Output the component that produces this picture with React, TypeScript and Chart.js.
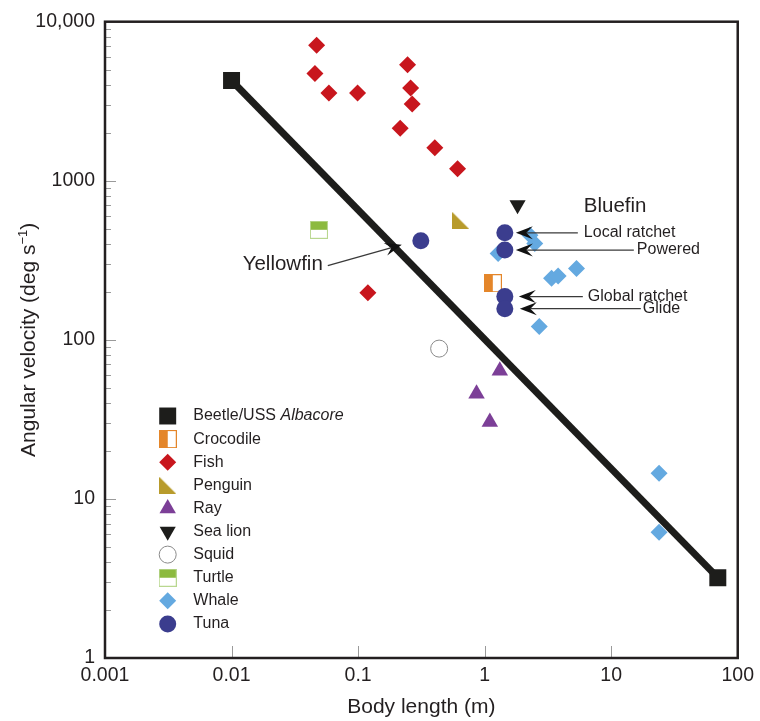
import React, { useEffect, useRef } from 'react';
import { Chart, registerables } from 'chart.js';
import { drawPoint } from 'chart.js/helpers';

Chart.register(...registerables);

// ---------- data ----------
const xTickValues = [0.001, 0.01, 0.1, 1, 10, 100];
const xTickLabels = ['0.001', '0.01', '0.1', '1', '10', '100'];
const yTickValues = [1, 10, 100, 1000, 10000];
const yTickLabels = ['1', '10', '100', '1000', '10,000'];
const xAxisTitle = 'Body length (m)';
const yAxisTitleMain = 'Angular velocity (deg s';
const yAxisTitleSup = '\u22121';
const yAxisTitleEnd = ')';

const speciesNames = ['Beetle/USS ', 'Crocodile', 'Fish', 'Penguin', 'Ray', 'Sea lion', 'Squid', 'Turtle', 'Whale', 'Tuna'];
const beetleItalic = 'Albacore';

const beetleX = [0.01, 69.6];
const beetleY = [4273, 3.2];
const crocodileX = [1.16];
const crocodileY = [227];
const fishX = [0.047, 0.0456, 0.0588, 0.099, 0.246, 0.26, 0.2676, 0.215, 0.404, 0.611, 0.1195];
const fishY = [7105, 4726, 3557, 3557, 5358, 3824, 3036, 2139, 1610, 1190, 198];
const penguinX = [0.648];
const penguinY = [562];
const rayX = [1.318, 0.863, 1.099];
const rayY = [63.9, 45.9, 30.4];
const seaLionX = [1.82];
const seaLionY = [705];
const squidX = [0.437];
const squidY = [88.1];
const turtleX = [0.049];
const turtleY = [492];
const whaleX = [2.28, 2.49, 1.278, 3.38, 3.81, 5.32, 2.7, 23.9, 23.9];
const whaleY = [455, 404, 349, 244, 252, 281, 121.5, 14.5, 6.17];
const tunaX = [0.313, 1.444, 1.444, 1.444, 1.444];
const tunaY = [420, 471, 367, 187, 157];
const tunaLabels = ['Yellowfin', 'Local ratchet', 'Powered', 'Global ratchet', 'Glide'];
const bluefinTitle = 'Bluefin';

// ---------- styles ----------
const FONT = "'Liberation Sans', Arial, Helvetica, sans-serif";
const INK = '#231f20';
const BLACK = '#1d1d1b';
const ORANGE = '#e4862a';
const FISH = '#c8161d';
const PENGUIN = '#b89b2c';
const RAY = '#7c3f97';
const SQUID_BORDER = '#8a8a8a';
const GREEN = '#8cba3f';
const GREEN_LIGHT = '#b9d78f';
const WHALE = '#64a9e0';
const TUNA = '#3b3d8e';
const TICK = '#9a9a9a';

const noteLayout = {
  yellowfin: { idx: 0, textRightDx: -98, textDy: 24, tailDx: -93, tailDy: 25, tipDx: -19, tipDy: 4, size: 20.5 },
  bluefin: { idx: 1, dx: 79, dy: -26, size: 20.5 },
  arrows: [
    { idx: 1, tipDx: 11, tailDx: 73, textDx: 79 },
    { idx: 2, tipDx: 11, tailDx: 129, textDx: 132 },
    { idx: 3, tipDx: 14, tailDx: 78, textDx: 83 },
    { idx: 4, tipDx: 15, tailDx: 136, textDx: 138 },
  ],
  labelSize: 16,
};

function mkCanvas(size: number, draw: (c: CanvasRenderingContext2D, s: number) => void) {
  const c = document.createElement('canvas');
  c.width = size;
  c.height = size;
  draw(c.getContext('2d') as CanvasRenderingContext2D, size);
  return c;
}

function arrow(ctx: CanvasRenderingContext2D, x0: number, y0: number, x1: number, y1: number) {
  const ang = Math.atan2(y1 - y0, x1 - x0);
  const L = 17, W = 6.5, N = 0.62 * L;
  ctx.save();
  ctx.strokeStyle = '#3a3a3a';
  ctx.lineWidth = 1.3;
  ctx.beginPath();
  ctx.moveTo(x0, y0);
  ctx.lineTo(x1 - Math.cos(ang) * N, y1 - Math.sin(ang) * N);
  ctx.stroke();
  ctx.translate(x1, y1);
  ctx.rotate(ang);
  ctx.fillStyle = '#111';
  ctx.beginPath();
  ctx.moveTo(0, 0);
  ctx.lineTo(-L, -W);
  ctx.lineTo(-N, 0);
  ctx.lineTo(-L, W);
  ctx.closePath();
  ctx.fill();
  ctx.restore();
}

export default function App() {
  const ref = useRef<HTMLCanvasElement>(null);

  useEffect(() => {
    const canvas = ref.current as HTMLCanvasElement;

    const crocImg = mkCanvas(18, (c, s) => {
      c.fillStyle = '#fff';
      c.fillRect(0, 0, s, s);
      c.fillStyle = ORANGE;
      c.fillRect(0, 0, s / 2, s);
      c.strokeStyle = ORANGE;
      c.lineWidth = 1;
      c.strokeRect(0.5, 0.5, s - 1, s - 1);
    });
    const turtleImg = mkCanvas(18, (c, s) => {
      c.fillStyle = '#fff';
      c.fillRect(0, 0, s, s);
      c.fillStyle = GREEN;
      c.fillRect(0, 0, s, s / 2);
      c.strokeStyle = GREEN_LIGHT;
      c.lineWidth = 1;
      c.strokeRect(0.5, 0.5, s - 1, s - 1);
    });
    const penguinImg = mkCanvas(17, (c, s) => {
      c.fillStyle = PENGUIN;
      c.beginPath();
      c.moveTo(0, 0);
      c.lineTo(0, s);
      c.lineTo(s, s);
      c.closePath();
      c.fill();
    });

    const xs = [beetleX, crocodileX, fishX, penguinX, rayX, seaLionX, squidX, turtleX, whaleX, tunaX];
    const ys = [beetleY, crocodileY, fishY, penguinY, rayY, seaLionY, squidY, turtleY, whaleY, tunaY];
    const styles: any[] = [
      { style: 'rect', radius: 12, color: BLACK, border: BLACK, bw: 0, line: true },
      { style: crocImg, radius: 9, color: ORANGE, border: ORANGE, bw: 0 },
      { style: 'rectRot', radius: 8.5, color: FISH, border: FISH, bw: 0 },
      { style: penguinImg, radius: 9, color: PENGUIN, border: PENGUIN, bw: 0 },
      { style: 'triangle', radius: 9.5, color: RAY, border: RAY, bw: 0 },
      { style: 'triangle', rotation: 180, radius: 9.3, color: BLACK, border: BLACK, bw: 0 },
      { style: 'circle', radius: 8.5, color: '#ffffff', border: SQUID_BORDER, bw: 1 },
      { style: turtleImg, radius: 9, color: GREEN, border: GREEN, bw: 0 },
      { style: 'rectRot', radius: 8.5, color: WHALE, border: WHALE, bw: 0 },
      { style: 'circle', radius: 8.5, color: TUNA, border: TUNA, bw: 0 },
    ];

    const datasets = speciesNames.map((name, i) => ({
      label: name,
      data: xs[i].map((x, j) => ({ x, y: ys[i][j] })),
      showLine: !!styles[i].line,
      borderColor: BLACK,
      borderWidth: 7,
      backgroundColor: styles[i].color,
      pointStyle: styles[i].style,
      pointRadius: styles[i].radius,
      pointHoverRadius: styles[i].radius,
      pointRotation: styles[i].rotation || 0,
      pointBackgroundColor: styles[i].color,
      pointBorderColor: styles[i].border,
      pointBorderWidth: styles[i].bw,
      order: speciesNames.length - i,
    }));

    const tunaIndex = speciesNames.length - 1;

    const decor = {
      id: 'decor',
      afterDraw(chart: any) {
        const ctx = chart.ctx as CanvasRenderingContext2D;
        const { left, right, top, bottom } = chart.chartArea;
        const xs_ = chart.scales.x;
        const ys_ = chart.scales.y;
        ctx.save();

        // ticks (inside)
        ctx.strokeStyle = TICK;
        ctx.lineWidth = 1;
        ctx.beginPath();
        for (let k = 0; k < yTickValues.length - 1; k++) {
          for (let m = 1; m <= 9; m++) {
            const v = yTickValues[k] * m;
            const py = Math.round(ys_.getPixelForValue(v)) + 0.5;
            const len = m === 1 ? 11 : 6;
            if (m === 1 && k === 0) continue;
            ctx.moveTo(left, py);
            ctx.lineTo(left + len, py);
          }
        }
        for (let k = 1; k < xTickValues.length - 1; k++) {
          const px = Math.round(xs_.getPixelForValue(xTickValues[k])) + 0.5;
          ctx.moveTo(px, bottom);
          ctx.lineTo(px, bottom - 12);
        }
        ctx.stroke();

        // frame
        ctx.strokeStyle = INK;
        ctx.lineWidth = 2.5;
        ctx.strokeRect(left, top, right - left, bottom - top);

        // axis titles
        ctx.fillStyle = INK;
        ctx.font = `21px ${FONT}`;
        ctx.textBaseline = 'alphabetic';
        ctx.textAlign = 'center';
        ctx.fillText(xAxisTitle, (left + right) / 2, 713);

        ctx.save();
        const wMain = ctx.measureText(yAxisTitleMain).width;
        const wEnd = ctx.measureText(yAxisTitleEnd).width;
        ctx.font = `13px ${FONT}`;
        const wSup = ctx.measureText(yAxisTitleSup).width;
        const total = wMain + wSup + wEnd;
        ctx.translate(34.5, (top + bottom) / 2);
        ctx.rotate(-Math.PI / 2);
        ctx.textAlign = 'left';
        let cx = -total / 2;
        ctx.font = `21px ${FONT}`;
        ctx.fillText(yAxisTitleMain, cx, 0);
        cx += wMain;
        ctx.font = `13px ${FONT}`;
        ctx.fillText(yAxisTitleSup, cx, -8);
        cx += wSup;
        ctx.font = `21px ${FONT}`;
        ctx.fillText(yAxisTitleEnd, cx, 0);
        ctx.restore();

        // legend
        const lx = left + 62.7;
        const ly0 = top + 394.3;
        const dy = 23.1;
        ctx.textAlign = 'left';
        ctx.textBaseline = 'middle';
        speciesNames.forEach((name, i) => {
          const s = styles[i];
          const y = ly0 + i * dy;
          ctx.fillStyle = s.color;
          ctx.strokeStyle = s.border;
          ctx.lineWidth = s.bw;
          drawPoint(ctx, { pointStyle: s.style, radius: s.radius, rotation: s.rotation || 0, borderWidth: s.bw } as any, lx, y);
          ctx.fillStyle = INK;
          ctx.font = `16px ${FONT}`;
          ctx.fillText(name, lx + 25.6, y);
          if (i === 0) {
            const w = ctx.measureText(name).width;
            ctx.font = `italic 16px ${FONT}`;
            ctx.fillText(beetleItalic, lx + 25.6 + w, y);
          }
        });

        // annotations
        const pts = chart.getDatasetMeta(tunaIndex).data;
        const yf = noteLayout.yellowfin;
        const p0 = pts[yf.idx];
        ctx.fillStyle = INK;
        ctx.font = `${yf.size}px ${FONT}`;
        ctx.textAlign = 'right';
        ctx.textBaseline = 'middle';
        ctx.fillText(tunaLabels[yf.idx], p0.x + yf.textRightDx, p0.y + yf.textDy);
        arrow(ctx, p0.x + yf.tailDx, p0.y + yf.tailDy, p0.x + yf.tipDx, p0.y + yf.tipDy);

        const bf = noteLayout.bluefin;
        const pb = pts[bf.idx];
        ctx.fillStyle = INK;
        ctx.textAlign = 'left';
        ctx.font = `${bf.size}px ${FONT}`;
        ctx.fillText(bluefinTitle, pb.x + bf.dx, pb.y + bf.dy);

        noteLayout.arrows.forEach((a) => {
          const p = pts[a.idx];
          arrow(ctx, p.x + a.tailDx, p.y, p.x + a.tipDx, p.y);
          ctx.fillStyle = INK;
          ctx.textAlign = 'left';
          ctx.textBaseline = 'middle';
          ctx.font = `${noteLayout.labelSize}px ${FONT}`;
          ctx.fillText(tunaLabels[a.idx], p.x + a.textDx, p.y);
        });

        ctx.restore();
      },
    };

    const chart = new Chart(canvas, {
      type: 'scatter',
      data: { datasets: datasets as any },
      options: {
        responsive: false,
        maintainAspectRatio: false,
        devicePixelRatio: 1,
        animation: false,
        events: [],
        layout: { padding: { left: 0, right: 22, top: 19, bottom: 0 } },
        plugins: { legend: { display: false }, tooltip: { enabled: false } },
        scales: {
          x: {
            type: 'logarithmic',
            min: 0.001,
            max: 100,
            afterBuildTicks: (s: any) => {
              s.ticks = xTickValues.map((v) => ({ value: v }));
            },
            afterFit: (s: any) => {
              s.height = 63;
            },
            grid: { display: false, drawTicks: false },
            border: { display: false },
            ticks: {
              autoSkip: false,
              maxRotation: 0,
              padding: 6,
              color: INK,
              font: { family: FONT, size: 19.5 },
              callback: (_v: any, i: number) => xTickLabels[i],
            },
          },
          y: {
            type: 'logarithmic',
            min: 1,
            max: 10000,
            afterBuildTicks: (s: any) => {
              s.ticks = yTickValues.map((v) => ({ value: v }));
            },
            afterFit: (s: any) => {
              s.width = 105;
            },
            grid: { display: false, drawTicks: false },
            border: { display: false },
            ticks: {
              autoSkip: false,
              padding: 10,
              color: INK,
              font: { family: FONT, size: 19.5 },
              callback: (_v: any, i: number) => yTickLabels[i],
            },
          },
        },
      } as any,
      plugins: [decor],
    });

    return () => chart.destroy();
  }, []);

  return (
    <div style={{ position: 'absolute', left: 0, top: 0, width: 760, height: 721, background: '#fff' }}>
      <canvas ref={ref} width={760} height={721} style={{ display: 'block', width: 760, height: 721 }} />
    </div>
  );
}
